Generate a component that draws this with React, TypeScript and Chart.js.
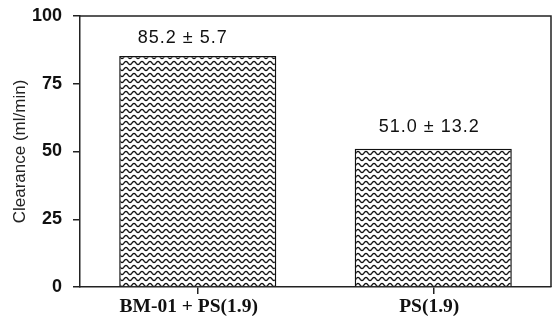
import React, { useEffect, useRef } from "react";
import { Chart, registerables } from "chart.js";

Chart.register(...registerables);

const categories = ["BM-01 + PS(1.9)", "PS(1.9)"];
const clearanceMeans = [85.2, 51.0];
const clearanceSDs = [5.7, 13.2];
const yTicks = [0, 25, 50, 75, 100];

function makePattern(): CanvasPattern | string {
  const c = document.createElement("canvas");
  c.width = 8;
  c.height = 6;
  const g = c.getContext("2d");
  if (!g) return "#fff";
  g.fillStyle = "#fff";
  g.fillRect(0, 0, 8, 6);
  g.strokeStyle = "#111";
  g.lineWidth = 1.3;
  g.beginPath();
  for (let x = -1; x <= 9; x += 0.5) {
    const y = 3 + 1.6 * Math.sin((x / 8) * Math.PI * 2);
    if (x === -1) g.moveTo(x, y);
    else g.lineTo(x, y);
  }
  g.stroke();
  const p = g.createPattern(c, "repeat");
  return p || "#fff";
}

export default function App() {
  const ref = useRef<HTMLCanvasElement>(null);
  useEffect(() => {
    document.body.style.margin = "0";
    const canvas = ref.current;
    if (!canvas) return;
    const pattern = makePattern();
    const framePlugin = {
      id: "frame",
      afterDatasetsDraw(chart: any) {
        const { ctx, chartArea } = chart;
        ctx.save();
        ctx.strokeStyle = "#222";
        ctx.lineWidth = 1.5;
        ctx.beginPath();
        ctx.moveTo(chartArea.left, chartArea.top);
        ctx.lineTo(chartArea.right, chartArea.top);
        ctx.lineTo(chartArea.right, chartArea.bottom);
        ctx.stroke();
        // bar value labels
        const meta = chart.getDatasetMeta(0);
        ctx.fillStyle = "#111";
        ctx.font = "18px Arial, 'Liberation Sans', sans-serif";
        ctx.textAlign = "center";
        ctx.textBaseline = "alphabetic";
        (ctx as any).letterSpacing = "1px";
        const dy = [13, 17];
        const dx = [-15, -4];
        meta.data.forEach((bar: any, i: number) => {
          const txt = clearanceMeans[i].toFixed(1) + " \u00b1 " + clearanceSDs[i].toFixed(1);
          ctx.fillText(txt, bar.x + dx[i], bar.y - dy[i]);
        });
        // category labels
        (ctx as any).letterSpacing = "0px";
        ctx.font = "bold 19.5px 'Liberation Serif', 'Times New Roman', serif";
        ctx.textBaseline = "middle";
        const xs = chart.scales.x;
        const ldx = [-9, -4];
        categories.forEach((lab, i) => {
          ctx.fillText(lab, xs.getPixelForTick(i) + ldx[i], chartArea.bottom + 20);
        });
        ctx.restore();
      },
    };
    const chart = new Chart(canvas, {
      type: "bar",
      data: {
        labels: categories,
        datasets: [
          {
            data: clearanceMeans,
            backgroundColor: pattern as any,
            borderColor: "#111",
            borderWidth: 1.5,
            categoryPercentage: 1,
            barPercentage: 0.667,
          },
        ],
      },
      options: {
        animation: false,
        responsive: false,
        layout: { padding: { top: 16, right: 4, left: 0, bottom: 0 } },
        plugins: { legend: { display: false }, tooltip: { enabled: false } },
        scales: {
          x: {
            grid: {
              display: true,
              drawOnChartArea: false,
              offset: false,
              tickLength: 7,
              color: "#222",
              lineWidth: 1.5,
            },
            border: { display: true, color: "#222", width: 1.5 },
            ticks: {
              color: "rgba(0,0,0,0)",
              font: { family: "'Liberation Serif', 'Times New Roman', serif", size: 19.5, weight: "bold" },
              padding: 1,
            },
            afterFit(scale: any) {
              scale.height = 34;
              scale.paddingLeft = 0;
              scale.paddingRight = 0;
            },
          },
          y: {
            min: 0,
            max: 100,
            afterBuildTicks(scale: any) {
              scale.ticks = yTicks.map((v) => ({ value: v }));
            },
            grid: {
              display: true,
              drawOnChartArea: false,
              tickLength: 7,
              color: "#222",
              lineWidth: 1.5,
            },
            border: { display: true, color: "#222", width: 1.5 },
            ticks: {
              color: "#111",
              font: { family: "Arial, 'Liberation Sans', sans-serif", size: 18, weight: "bold" },
              padding: 11,
            },
            title: {
              display: true,
              text: "Clearance (ml/min)",
              color: "#222",
              font: { family: "Arial, 'Liberation Sans', sans-serif", size: 17 },
              padding: { top: 10, bottom: 0 },
            },
            afterFit(scale: any) {
              scale.width = 80;
              scale.paddingTop = 0;
              scale.paddingBottom = 0;
            },
          },
        },
      },
      plugins: [framePlugin],
    });
    return () => chart.destroy();
  }, []);
  return <canvas ref={ref} width={555} height={321} style={{ display: "block" }} />;
}
